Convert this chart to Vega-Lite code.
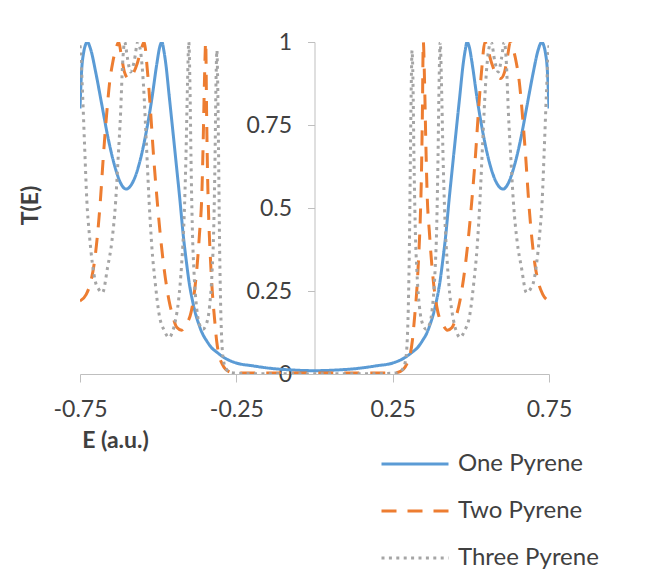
{
"$schema": "https://vega.github.io/schema/vega-lite/v6.json",
"width": 469, "height": 332,
"autosize": {"type": "none"},
"padding": {"left": 80, "top": 42, "right": 110, "bottom": 199},
"background": "white",
"config": {"view": {"stroke": null}, "font": "Lato"},
"data": {"values": [
{"s":"One Pyrene","E":-0.75,"T":0.8},{"s":"One Pyrene","E":-0.745,"T":0.91},{"s":"One Pyrene","E":-0.738,"T":0.97},{"s":"One Pyrene","E":-0.733,"T":0.99},{"s":"One Pyrene","E":-0.727,"T":1},{"s":"One Pyrene","E":-0.715,"T":0.975},{"s":"One Pyrene","E":-0.7,"T":0.91},{"s":"One Pyrene","E":-0.68,"T":0.81},{"s":"One Pyrene","E":-0.66,"T":0.71},{"s":"One Pyrene","E":-0.64,"T":0.63},{"s":"One Pyrene","E":-0.62,"T":0.575},{"s":"One Pyrene","E":-0.603,"T":0.557},{"s":"One Pyrene","E":-0.58,"T":0.58},{"s":"One Pyrene","E":-0.56,"T":0.635},{"s":"One Pyrene","E":-0.54,"T":0.72},{"s":"One Pyrene","E":-0.52,"T":0.83},{"s":"One Pyrene","E":-0.505,"T":0.93},{"s":"One Pyrene","E":-0.495,"T":0.985},{"s":"One Pyrene","E":-0.488,"T":1},{"s":"One Pyrene","E":-0.482,"T":0.975},{"s":"One Pyrene","E":-0.475,"T":0.93},{"s":"One Pyrene","E":-0.465,"T":0.84},{"s":"One Pyrene","E":-0.455,"T":0.75},{"s":"One Pyrene","E":-0.443,"T":0.64},{"s":"One Pyrene","E":-0.43,"T":0.52},{"s":"One Pyrene","E":-0.42,"T":0.42},{"s":"One Pyrene","E":-0.41,"T":0.34},{"s":"One Pyrene","E":-0.4,"T":0.27},{"s":"One Pyrene","E":-0.39,"T":0.22},{"s":"One Pyrene","E":-0.38,"T":0.18},{"s":"One Pyrene","E":-0.37,"T":0.15},{"s":"One Pyrene","E":-0.36,"T":0.125},{"s":"One Pyrene","E":-0.345,"T":0.1},{"s":"One Pyrene","E":-0.33,"T":0.08},{"s":"One Pyrene","E":-0.31,"T":0.064},{"s":"One Pyrene","E":-0.29,"T":0.05},{"s":"One Pyrene","E":-0.25,"T":0.033},{"s":"One Pyrene","E":-0.2,"T":0.025},{"s":"One Pyrene","E":-0.14,"T":0.017},{"s":"One Pyrene","E":-0.07,"T":0.012},
{"s":"One Pyrene","E":0,"T":0.01},
{"s":"One Pyrene","E":0.07,"T":0.012},{"s":"One Pyrene","E":0.14,"T":0.017},{"s":"One Pyrene","E":0.2,"T":0.025},{"s":"One Pyrene","E":0.25,"T":0.033},{"s":"One Pyrene","E":0.29,"T":0.05},{"s":"One Pyrene","E":0.31,"T":0.064},{"s":"One Pyrene","E":0.33,"T":0.08},{"s":"One Pyrene","E":0.345,"T":0.1},{"s":"One Pyrene","E":0.36,"T":0.125},{"s":"One Pyrene","E":0.37,"T":0.15},{"s":"One Pyrene","E":0.38,"T":0.18},{"s":"One Pyrene","E":0.39,"T":0.22},{"s":"One Pyrene","E":0.4,"T":0.27},{"s":"One Pyrene","E":0.41,"T":0.34},{"s":"One Pyrene","E":0.42,"T":0.42},{"s":"One Pyrene","E":0.43,"T":0.52},{"s":"One Pyrene","E":0.443,"T":0.64},{"s":"One Pyrene","E":0.455,"T":0.75},{"s":"One Pyrene","E":0.465,"T":0.84},{"s":"One Pyrene","E":0.475,"T":0.93},{"s":"One Pyrene","E":0.482,"T":0.975},{"s":"One Pyrene","E":0.488,"T":1},{"s":"One Pyrene","E":0.495,"T":0.985},{"s":"One Pyrene","E":0.505,"T":0.93},{"s":"One Pyrene","E":0.52,"T":0.83},{"s":"One Pyrene","E":0.54,"T":0.72},{"s":"One Pyrene","E":0.56,"T":0.635},{"s":"One Pyrene","E":0.58,"T":0.58},{"s":"One Pyrene","E":0.603,"T":0.557},{"s":"One Pyrene","E":0.62,"T":0.575},{"s":"One Pyrene","E":0.64,"T":0.63},{"s":"One Pyrene","E":0.66,"T":0.71},{"s":"One Pyrene","E":0.68,"T":0.81},{"s":"One Pyrene","E":0.7,"T":0.91},{"s":"One Pyrene","E":0.715,"T":0.975},{"s":"One Pyrene","E":0.727,"T":1},{"s":"One Pyrene","E":0.733,"T":0.99},{"s":"One Pyrene","E":0.738,"T":0.97},{"s":"One Pyrene","E":0.745,"T":0.91},{"s":"One Pyrene","E":0.75,"T":0.8},

{"s":"Two Pyrene","E":-0.75,"T":0.22},{"s":"Two Pyrene","E":-0.73,"T":0.24},{"s":"Two Pyrene","E":-0.715,"T":0.28},{"s":"Two Pyrene","E":-0.705,"T":0.33},{"s":"Two Pyrene","E":-0.695,"T":0.41},{"s":"Two Pyrene","E":-0.685,"T":0.52},{"s":"Two Pyrene","E":-0.675,"T":0.66},{"s":"Two Pyrene","E":-0.665,"T":0.78},{"s":"Two Pyrene","E":-0.655,"T":0.88},{"s":"Two Pyrene","E":-0.645,"T":0.94},{"s":"Two Pyrene","E":-0.635,"T":0.98},{"s":"Two Pyrene","E":-0.626,"T":1},{"s":"Two Pyrene","E":-0.618,"T":0.96},{"s":"Two Pyrene","E":-0.608,"T":0.91},{"s":"Two Pyrene","E":-0.595,"T":0.89},{"s":"Two Pyrene","E":-0.58,"T":0.905},{"s":"Two Pyrene","E":-0.567,"T":0.935},{"s":"Two Pyrene","E":-0.555,"T":0.975},{"s":"Two Pyrene","E":-0.545,"T":1},{"s":"Two Pyrene","E":-0.535,"T":0.92},{"s":"Two Pyrene","E":-0.525,"T":0.8},{"s":"Two Pyrene","E":-0.515,"T":0.66},{"s":"Two Pyrene","E":-0.503,"T":0.52},{"s":"Two Pyrene","E":-0.49,"T":0.39},{"s":"Two Pyrene","E":-0.48,"T":0.31},{"s":"Two Pyrene","E":-0.465,"T":0.22},{"s":"Two Pyrene","E":-0.455,"T":0.18},{"s":"Two Pyrene","E":-0.44,"T":0.14},{"s":"Two Pyrene","E":-0.425,"T":0.132},{"s":"Two Pyrene","E":-0.41,"T":0.15},{"s":"Two Pyrene","E":-0.395,"T":0.185},{"s":"Two Pyrene","E":-0.385,"T":0.24},{"s":"Two Pyrene","E":-0.376,"T":0.32},{"s":"Two Pyrene","E":-0.368,"T":0.42},{"s":"Two Pyrene","E":-0.36,"T":0.55},{"s":"Two Pyrene","E":-0.356,"T":0.7},{"s":"Two Pyrene","E":-0.352,"T":0.88},{"s":"Two Pyrene","E":-0.348,"T":1},{"s":"Two Pyrene","E":-0.345,"T":0.78},{"s":"Two Pyrene","E":-0.342,"T":0.6},{"s":"Two Pyrene","E":-0.338,"T":0.46},{"s":"Two Pyrene","E":-0.333,"T":0.35},{"s":"Two Pyrene","E":-0.327,"T":0.25},{"s":"Two Pyrene","E":-0.32,"T":0.17},{"s":"Two Pyrene","E":-0.313,"T":0.1},{"s":"Two Pyrene","E":-0.305,"T":0.055},{"s":"Two Pyrene","E":-0.295,"T":0.03},{"s":"Two Pyrene","E":-0.285,"T":0.015},{"s":"Two Pyrene","E":-0.275,"T":0.008},{"s":"Two Pyrene","E":-0.26,"T":0.004},{"s":"Two Pyrene","E":-0.2,"T":0.003},{"s":"Two Pyrene","E":-0.1,"T":0.003},
{"s":"Two Pyrene","E":0,"T":0.003},
{"s":"Two Pyrene","E":0.1,"T":0.003},{"s":"Two Pyrene","E":0.2,"T":0.003},{"s":"Two Pyrene","E":0.26,"T":0.004},{"s":"Two Pyrene","E":0.275,"T":0.008},{"s":"Two Pyrene","E":0.285,"T":0.015},{"s":"Two Pyrene","E":0.295,"T":0.03},{"s":"Two Pyrene","E":0.305,"T":0.055},{"s":"Two Pyrene","E":0.313,"T":0.1},{"s":"Two Pyrene","E":0.32,"T":0.17},{"s":"Two Pyrene","E":0.327,"T":0.25},{"s":"Two Pyrene","E":0.333,"T":0.35},{"s":"Two Pyrene","E":0.338,"T":0.46},{"s":"Two Pyrene","E":0.342,"T":0.6},{"s":"Two Pyrene","E":0.345,"T":0.78},{"s":"Two Pyrene","E":0.348,"T":1},{"s":"Two Pyrene","E":0.352,"T":0.88},{"s":"Two Pyrene","E":0.356,"T":0.7},{"s":"Two Pyrene","E":0.36,"T":0.55},{"s":"Two Pyrene","E":0.368,"T":0.42},{"s":"Two Pyrene","E":0.376,"T":0.32},{"s":"Two Pyrene","E":0.385,"T":0.24},{"s":"Two Pyrene","E":0.395,"T":0.185},{"s":"Two Pyrene","E":0.41,"T":0.15},{"s":"Two Pyrene","E":0.425,"T":0.132},{"s":"Two Pyrene","E":0.44,"T":0.14},{"s":"Two Pyrene","E":0.455,"T":0.18},{"s":"Two Pyrene","E":0.465,"T":0.22},{"s":"Two Pyrene","E":0.48,"T":0.31},{"s":"Two Pyrene","E":0.49,"T":0.39},{"s":"Two Pyrene","E":0.503,"T":0.52},{"s":"Two Pyrene","E":0.515,"T":0.66},{"s":"Two Pyrene","E":0.525,"T":0.8},{"s":"Two Pyrene","E":0.535,"T":0.92},{"s":"Two Pyrene","E":0.545,"T":1},{"s":"Two Pyrene","E":0.555,"T":0.975},{"s":"Two Pyrene","E":0.567,"T":0.935},{"s":"Two Pyrene","E":0.58,"T":0.905},{"s":"Two Pyrene","E":0.595,"T":0.89},{"s":"Two Pyrene","E":0.608,"T":0.91},{"s":"Two Pyrene","E":0.618,"T":0.96},{"s":"Two Pyrene","E":0.626,"T":1},{"s":"Two Pyrene","E":0.635,"T":0.98},{"s":"Two Pyrene","E":0.645,"T":0.94},{"s":"Two Pyrene","E":0.655,"T":0.88},{"s":"Two Pyrene","E":0.665,"T":0.78},{"s":"Two Pyrene","E":0.675,"T":0.66},{"s":"Two Pyrene","E":0.685,"T":0.52},{"s":"Two Pyrene","E":0.695,"T":0.41},{"s":"Two Pyrene","E":0.705,"T":0.33},{"s":"Two Pyrene","E":0.715,"T":0.28},{"s":"Two Pyrene","E":0.73,"T":0.24},{"s":"Two Pyrene","E":0.75,"T":0.22},

{"s":"Three Pyrene","E":-0.75,"T":0.99},{"s":"Three Pyrene","E":-0.748,"T":0.97},{"s":"Three Pyrene","E":-0.742,"T":0.85},{"s":"Three Pyrene","E":-0.735,"T":0.68},{"s":"Three Pyrene","E":-0.728,"T":0.52},{"s":"Three Pyrene","E":-0.72,"T":0.42},{"s":"Three Pyrene","E":-0.71,"T":0.33},{"s":"Three Pyrene","E":-0.7,"T":0.275},{"s":"Three Pyrene","E":-0.69,"T":0.255},{"s":"Three Pyrene","E":-0.678,"T":0.245},{"s":"Three Pyrene","E":-0.662,"T":0.32},{"s":"Three Pyrene","E":-0.648,"T":0.4},{"s":"Three Pyrene","E":-0.636,"T":0.52},{"s":"Three Pyrene","E":-0.628,"T":0.65},{"s":"Three Pyrene","E":-0.62,"T":0.79},{"s":"Three Pyrene","E":-0.614,"T":0.93},{"s":"Three Pyrene","E":-0.607,"T":1},{"s":"Three Pyrene","E":-0.598,"T":0.95},{"s":"Three Pyrene","E":-0.588,"T":0.91},{"s":"Three Pyrene","E":-0.577,"T":0.94},{"s":"Three Pyrene","E":-0.565,"T":1},{"s":"Three Pyrene","E":-0.556,"T":0.97},{"s":"Three Pyrene","E":-0.547,"T":0.87},{"s":"Three Pyrene","E":-0.538,"T":0.7},{"s":"Three Pyrene","E":-0.529,"T":0.52},{"s":"Three Pyrene","E":-0.52,"T":0.38},{"s":"Three Pyrene","E":-0.51,"T":0.28},{"s":"Three Pyrene","E":-0.497,"T":0.18},{"s":"Three Pyrene","E":-0.48,"T":0.13},{"s":"Three Pyrene","E":-0.465,"T":0.11},{"s":"Three Pyrene","E":-0.455,"T":0.125},{"s":"Three Pyrene","E":-0.445,"T":0.16},{"s":"Three Pyrene","E":-0.435,"T":0.22},{"s":"Three Pyrene","E":-0.425,"T":0.33},{"s":"Three Pyrene","E":-0.417,"T":0.47},{"s":"Three Pyrene","E":-0.411,"T":0.66},{"s":"Three Pyrene","E":-0.406,"T":0.88},{"s":"Three Pyrene","E":-0.402,"T":1},{"s":"Three Pyrene","E":-0.398,"T":0.85},{"s":"Three Pyrene","E":-0.395,"T":0.65},{"s":"Three Pyrene","E":-0.391,"T":0.45},{"s":"Three Pyrene","E":-0.385,"T":0.3},{"s":"Three Pyrene","E":-0.377,"T":0.2},{"s":"Three Pyrene","E":-0.368,"T":0.15},{"s":"Three Pyrene","E":-0.357,"T":0.135},{"s":"Three Pyrene","E":-0.346,"T":0.15},{"s":"Three Pyrene","E":-0.336,"T":0.2},{"s":"Three Pyrene","E":-0.328,"T":0.3},{"s":"Three Pyrene","E":-0.322,"T":0.45},{"s":"Three Pyrene","E":-0.318,"T":0.66},{"s":"Three Pyrene","E":-0.315,"T":0.88},{"s":"Three Pyrene","E":-0.312,"T":0.975},{"s":"Three Pyrene","E":-0.31,"T":0.9},{"s":"Three Pyrene","E":-0.307,"T":0.68},{"s":"Three Pyrene","E":-0.304,"T":0.42},{"s":"Three Pyrene","E":-0.3,"T":0.2},{"s":"Three Pyrene","E":-0.296,"T":0.09},{"s":"Three Pyrene","E":-0.29,"T":0.035},{"s":"Three Pyrene","E":-0.282,"T":0.015},{"s":"Three Pyrene","E":-0.272,"T":0.006},{"s":"Three Pyrene","E":-0.26,"T":0.003},{"s":"Three Pyrene","E":-0.2,"T":0.001},
{"s":"Three Pyrene","E":0,"T":0.001},
{"s":"Three Pyrene","E":0.2,"T":0.001},{"s":"Three Pyrene","E":0.26,"T":0.003},{"s":"Three Pyrene","E":0.272,"T":0.006},{"s":"Three Pyrene","E":0.282,"T":0.015},{"s":"Three Pyrene","E":0.29,"T":0.035},{"s":"Three Pyrene","E":0.296,"T":0.09},{"s":"Three Pyrene","E":0.3,"T":0.2},{"s":"Three Pyrene","E":0.304,"T":0.42},{"s":"Three Pyrene","E":0.307,"T":0.68},{"s":"Three Pyrene","E":0.31,"T":0.9},{"s":"Three Pyrene","E":0.312,"T":0.975},{"s":"Three Pyrene","E":0.315,"T":0.88},{"s":"Three Pyrene","E":0.318,"T":0.66},{"s":"Three Pyrene","E":0.322,"T":0.45},{"s":"Three Pyrene","E":0.328,"T":0.3},{"s":"Three Pyrene","E":0.336,"T":0.2},{"s":"Three Pyrene","E":0.346,"T":0.15},{"s":"Three Pyrene","E":0.357,"T":0.135},{"s":"Three Pyrene","E":0.368,"T":0.15},{"s":"Three Pyrene","E":0.377,"T":0.2},{"s":"Three Pyrene","E":0.385,"T":0.3},{"s":"Three Pyrene","E":0.391,"T":0.45},{"s":"Three Pyrene","E":0.395,"T":0.65},{"s":"Three Pyrene","E":0.398,"T":0.85},{"s":"Three Pyrene","E":0.402,"T":1},{"s":"Three Pyrene","E":0.406,"T":0.88},{"s":"Three Pyrene","E":0.411,"T":0.66},{"s":"Three Pyrene","E":0.417,"T":0.47},{"s":"Three Pyrene","E":0.425,"T":0.33},{"s":"Three Pyrene","E":0.435,"T":0.22},{"s":"Three Pyrene","E":0.445,"T":0.16},{"s":"Three Pyrene","E":0.455,"T":0.125},{"s":"Three Pyrene","E":0.465,"T":0.11},{"s":"Three Pyrene","E":0.48,"T":0.13},{"s":"Three Pyrene","E":0.497,"T":0.18},{"s":"Three Pyrene","E":0.51,"T":0.28},{"s":"Three Pyrene","E":0.52,"T":0.38},{"s":"Three Pyrene","E":0.529,"T":0.52},{"s":"Three Pyrene","E":0.538,"T":0.7},{"s":"Three Pyrene","E":0.547,"T":0.87},{"s":"Three Pyrene","E":0.556,"T":0.97},{"s":"Three Pyrene","E":0.565,"T":1},{"s":"Three Pyrene","E":0.577,"T":0.94},{"s":"Three Pyrene","E":0.588,"T":0.91},{"s":"Three Pyrene","E":0.598,"T":0.95},{"s":"Three Pyrene","E":0.607,"T":1},{"s":"Three Pyrene","E":0.614,"T":0.93},{"s":"Three Pyrene","E":0.62,"T":0.79},{"s":"Three Pyrene","E":0.628,"T":0.65},{"s":"Three Pyrene","E":0.636,"T":0.52},{"s":"Three Pyrene","E":0.648,"T":0.4},{"s":"Three Pyrene","E":0.662,"T":0.32},{"s":"Three Pyrene","E":0.678,"T":0.245},{"s":"Three Pyrene","E":0.69,"T":0.255},{"s":"Three Pyrene","E":0.7,"T":0.275},{"s":"Three Pyrene","E":0.71,"T":0.33},{"s":"Three Pyrene","E":0.72,"T":0.42},{"s":"Three Pyrene","E":0.728,"T":0.52},{"s":"Three Pyrene","E":0.735,"T":0.68},{"s":"Three Pyrene","E":0.742,"T":0.85},{"s":"Three Pyrene","E":0.748,"T":0.97},{"s":"Three Pyrene","E":0.75,"T":0.99}
]},
"mark": {"type": "line", "interpolate": "monotone", "clip": true},
"encoding": {
  "x": {"field": "E", "type": "quantitative",
    "scale": {"domain": [-0.75, 0.75], "nice": false, "zero": false},
    "axis": {"values": [-0.75, -0.25, 0.25, 0.75],
      "labelExpr": "datum.value < 0 ? '-' + format(-datum.value, '.2f') : format(datum.value, '.2f')",
      "grid": false, "domainColor": "#bfbfbf", "tickColor": "#bfbfbf", "tickSize": 8, "labelPadding": 16,
      "labelFontSize": 23, "labelColor": "#404040", "labelFlush": false, "labelOverlap": false, "labelFont": "Lato",
      "title": "E (a.u.)", "titleFontSize": 23, "titleFontWeight": "bold", "titleColor": "#404040", "titleFont": "Lato",
      "titleX": 35, "titleY": 66, "titleAlign": "center", "titleBaseline": "middle"}},
  "y": {"field": "T", "type": "quantitative",
    "scale": {"domain": [0, 1], "nice": false},
    "axis": {"values": [0, 0.25, 0.5, 0.75, 1], "format": ".2~f", "offset": -234.5,
      "grid": false, "domainColor": "#bfbfbf", "tickColor": "#bfbfbf", "tickSize": 7, "labelPadding": 16,
      "labelFontSize": 23, "labelColor": "#404040", "labelFlush": false, "labelOverlap": false, "labelFont": "Lato",
      "title": "T(E)", "titleFontSize": 23, "titleFontWeight": "bold", "titleColor": "#404040", "titleFont": "Lato",
      "titleX": -284.5, "titleY": 163, "titleAngle": -90, "titleAlign": "center", "titleBaseline": "middle"}},
  "color": {"field": "s", "type": "nominal",
    "scale": {"domain": ["One Pyrene", "Two Pyrene", "Three Pyrene"], "range": ["#5b9bd5", "#ed7d31", "#a5a5a5"]},
    "legend": {"title": null, "orient": "none", "legendX": 300, "legendY": 387, "symbolType": "stroke", "symbolSize": 4489,
      "symbolStrokeWidth": 3, "labelFontSize": 24, "labelColor": "#404040", "labelFont": "Lato", "labelOffset": 8, "rowPadding": 0, "padding": 0}},
  "strokeDash": {"field": "s", "type": "nominal",
    "scale": {"domain": ["One Pyrene", "Two Pyrene", "Three Pyrene"], "range": [[1, 0], [15, 11], [3, 4.4]]},
    "legend": {"title": null, "orient": "none", "legendX": 300, "legendY": 387, "symbolType": "stroke", "symbolSize": 4489,
      "symbolStrokeWidth": 3, "labelFontSize": 24, "labelColor": "#404040", "labelFont": "Lato", "labelOffset": 8, "rowPadding": 0, "padding": 0}},
  "strokeWidth": {"field": "s", "type": "nominal",
    "scale": {"domain": ["One Pyrene", "Two Pyrene", "Three Pyrene"], "range": [3, 3, 2.5]}, "legend": null}
}
}
